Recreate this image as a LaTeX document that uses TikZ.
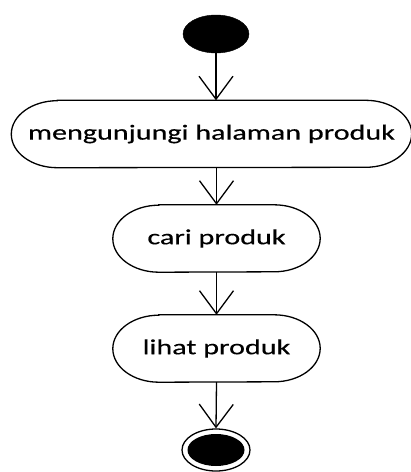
\documentclass[tikz,border=0pt]{standalone}
\usepackage{fontspec}
\setmainfont{Carlito}[FakeBold=0.35]
\usetikzlibrary{arrows.meta,shapes.geometric}

% activity node with half-elliptical ends
\newcommand{\capsuleoutline}[1]{%
  \draw[line width=1.3pt]
    ([xshift=46pt]#1.north west) -- ([xshift=-46pt]#1.north east)
    arc[start angle=90, end angle=-90, x radius=46pt, y radius=33.5pt]
    -- ([xshift=46pt]#1.south west)
    arc[start angle=270, end angle=90, x radius=46pt, y radius=33.5pt]
    -- cycle;}
% wide-set label text, sitting slightly below the middle
\newcommand{\acttext}[1]{\raisebox{-3.5pt}{\scalebox{1.4}[1]{#1}}}

\begin{document}
\begin{tikzpicture}[x=1pt, y=-1pt,
  activity/.style={inner sep=0pt, minimum height=67pt, font=\fontsize{21.5}{26}\selectfont},
  flow/.style={line width=1.3pt, -{Straight Barb[length=23pt, width=34pt, line width=1.3pt]}},
  startnode/.style={ellipse, fill=black, draw=black, inner sep=0pt, minimum width=66pt, minimum height=38pt},
  endouter/.style={ellipse, draw=black, line width=1.3pt, fill=white, inner sep=0pt, minimum width=68pt, minimum height=42pt},
  endinner/.style={ellipse, fill=black, inner sep=0pt, minimum width=57pt, minimum height=32pt}]
  \useasboundingbox (0,0) rectangle (411,472);
  \clip (0,0) rectangle (411,472);

  \node[startnode] (start) at (216,34) {};

  \node[activity, minimum width=400pt] (visit) at (211.5,134) {\acttext{mengunjungi halaman produk}};
  \capsuleoutline{visit}

  \node[activity, minimum width=207pt] (search) at (216.5,238.5) {\acttext{cari produk}};
  \capsuleoutline{search}

  \node[activity, minimum width=207pt] (view) at (216.5,348.5) {\acttext{lihat produk}};
  \capsuleoutline{view}

  \node[endouter] (end) at (216,450) {};
  \node[endinner] (endfill) at (end.center) {};

  \draw[flow] (start.south) -- (start.south |- visit.north);
  \draw[flow] (search.north |- visit.south) -- (search.north);
  \draw[flow] (search.south) -- (view.north);
  \draw[flow] (view.south) -- (end.north);
\end{tikzpicture}
\end{document}
